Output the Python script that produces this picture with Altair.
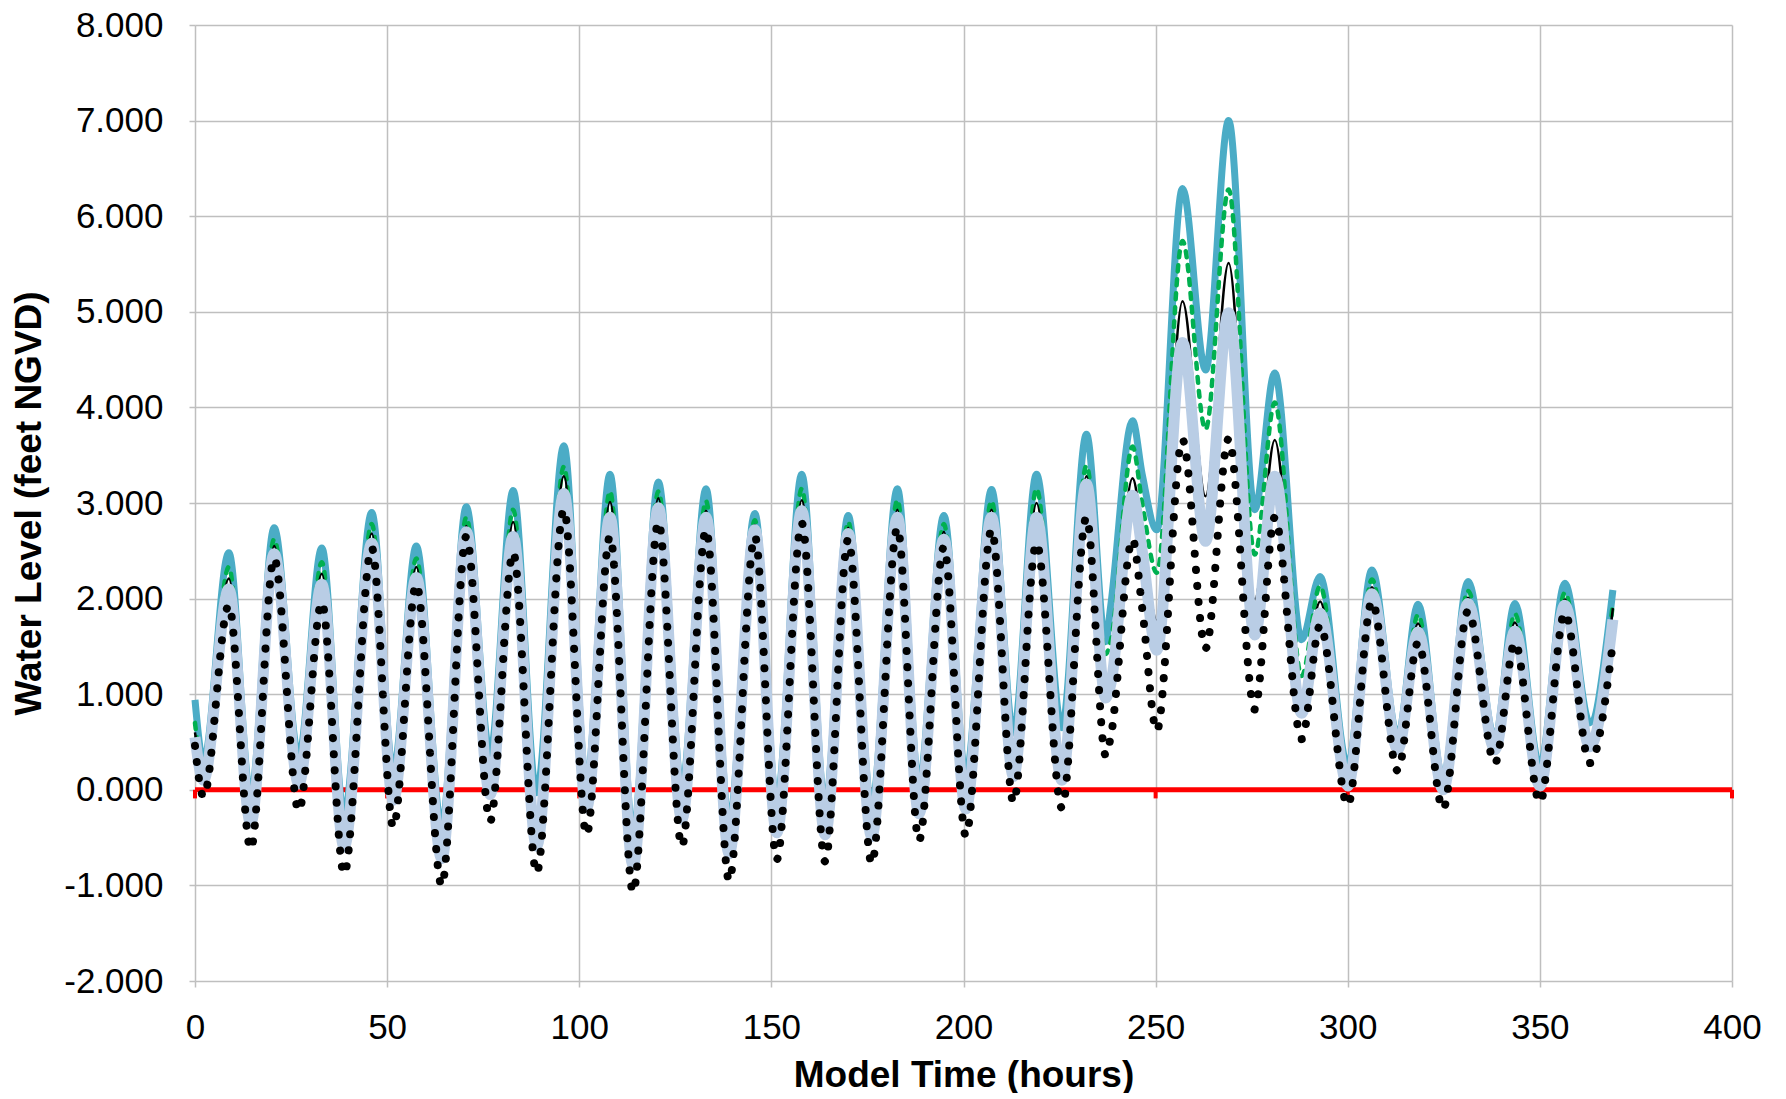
import altair as alt
import pandas as pd

# ---- data (hours, feet NGVD) ----
hours = [0, 2.2, 8.8, 14.5, 20.6, 27, 33, 38.8, 46, 51.6, 57.6, 64.2, 70.6, 76.8,
         82.8, 88.9, 96, 101.9, 108, 114, 120.6, 126.7, 133, 139, 145.7, 151.4,
         157.9, 164, 170, 176.1, 182.8, 188.4, 194.9, 200.6, 207.3, 213, 219, 225.6,
         232, 237, 238.3, 244, 246.5, 250.3, 257, 263, 269, 275.8, 281, 288, 292.8,
         300, 306.3, 313, 318.3, 324.8, 331.3, 338.3, 343.5, 350, 356.5, 363, 369]

observed = [0.46, -0.07, 1.93, -0.62, 2.42, -0.22, 1.96, -0.88, 2.53, -0.39, 2.15, -1.0,
            2.65, -0.33, 2.48, -0.87, 2.93, -0.47, 2.65, -1.07, 2.8, -0.59, 2.72, -0.95,
            2.65, -0.73, 2.79, -0.75, 2.62, -0.77, 2.74, -0.53, 2.54, -0.48, 2.72, -0.13,
            2.58, -0.19, 2.85, 0.36, 0.55, 2.62, 1.9, 0.62, 3.66, 1.48, 3.67, 0.84, 2.85,
            0.53, 1.72, -0.16, 1.97, 0.2, 1.54, -0.2, 1.87, 0.28, 1.54, -0.13, 1.85, 0.28, 1.54]

teal_run = [0.94, 0.30, 2.48, -0.05, 2.74, 0.35, 2.53, -0.25, 2.90, 0.2, 2.55, -0.38,
            2.96, 0.38, 3.13, -0.03, 3.60, 0.07, 3.30, -0.45, 3.22, 0.03, 3.15, -0.33,
            2.89, -0.12, 3.30, -0.15, 2.87, -0.17, 3.15, 0.07, 2.87, 0.15, 3.14, 0.6,
            3.30, 0.65, 3.72, 1.55, 1.92, 3.86, 3.3, 2.72, 6.29, 4.39, 7.0, 2.93, 4.36,
            1.57, 2.23, 0.25, 2.30, 0.56, 1.94, 0.12, 2.18, 0.54, 1.95, 0.25, 2.16, 0.7, 2.09]

green_run = [0.70, 0.18, 2.33, -0.22, 2.62, 0.2, 2.38, -0.46, 2.78, 0.03, 2.42, -0.58,
             2.85, 0.09, 2.93, -0.45, 3.38, -0.05, 3.12, -0.65, 3.12, -0.17, 3.02, -0.53,
             2.82, -0.31, 3.15, -0.33, 2.80, -0.35, 3.03, -0.11, 2.78, -0.06, 3.02, 0.32,
             3.15, 0.3, 3.39, 1.42, 1.55, 3.59, 3.0, 2.27, 5.74, 3.77, 6.28, 2.46, 4.05,
             1.19, 2.13, 0.1, 2.20, 0.48, 1.83, 0.05, 2.08, 0.46, 1.84, 0.1, 2.06, 0.55, 1.95]

black_run = [0.60, 0.15, 2.21, -0.26, 2.55, 0.16, 2.26, -0.5, 2.68, -0.01, 2.33, -0.62,
             2.76, 0.05, 2.80, -0.49, 3.28, -0.09, 3.01, -0.69, 3.05, -0.21, 2.92, -0.57,
             2.77, -0.35, 3.03, -0.37, 2.74, -0.39, 2.93, -0.15, 2.70, -0.1, 2.93, 0.25,
             3.00, 0.2, 3.28, 1.07, 1.25, 3.26, 2.7, 1.77, 5.11, 3.07, 5.51, 1.99, 3.66,
             1.0, 1.97, 0.08, 2.12, 0.45, 1.74, 0.02, 2.01, 0.44, 1.75, 0.07, 1.99, 0.5, 1.90]

lightblue_run = [0.55, 0.10, 2.10, -0.35, 2.47, 0.06, 2.15, -0.6, 2.58, -0.11, 2.22, -0.72,
                 2.70, -0.05, 2.65, -0.59, 3.10, -0.19, 2.85, -0.79, 2.95, -0.31, 2.85, -0.67,
                 2.72, -0.45, 2.92, -0.47, 2.68, -0.49, 2.85, -0.25, 2.62, -0.2, 2.85, 0.14,
                 2.85, 0.1, 3.20, 0.96, 1.1, 3.08, 2.5, 1.46, 4.68, 2.6, 4.99, 1.62, 3.28,
                 0.8, 1.85, 0.04, 2.05, 0.42, 1.65, 0.0, 1.95, 0.42, 1.66, 0.04, 1.93, 0.45, 1.78]

x_ticks = [0, 50, 100, 150, 200, 250, 300, 350, 400]
y_ticks = [-2, -1, 0, 1, 2, 3, 4, 5, 6, 7, 8]
datum_line_x = [0, 400]
datum_line_y = [0, 0]

FONT = "Liberation Sans"
GRID = "#bfbfbf"

for s in (observed, teal_run, green_run, black_run, lightblue_run):
    assert len(s) == len(hours)


def frame(vals):
    return pd.DataFrame({"t": hours, "v": vals})


x_enc = alt.X(
    "t:Q",
    scale=alt.Scale(domain=[0, 400], nice=False, zero=False),
    axis=alt.Axis(
        values=x_ticks, format="d", title="Model Time (hours)",
        labelFont=FONT, labelFontSize=35, labelColor="#000000", labelPadding=23,
        labelFlush=False, labelOverlap=False,
        tickSize=6, tickColor=GRID, tickWidth=1.5, domain=False,
        grid=True, gridColor=GRID, gridWidth=1.5,
        titleFont=FONT, titleFontSize=37, titleFontWeight="bold", titleColor="#000000",
        titleY=94, titleBaseline="middle",
    ),
)
y_enc = alt.Y(
    "v:Q",
    scale=alt.Scale(domain=[-2, 8], nice=False, zero=False),
    axis=alt.Axis(
        values=y_ticks, title="Water Level (feet NGVD)",
        labelExpr="(datum.value < 0 ? '-' : '') + format(abs(datum.value), '.3f')",
        labelFont=FONT, labelFontSize=35, labelColor="#000000", labelPadding=26,
        labelFlush=False, labelOverlap=False,
        tickSize=6, tickColor=GRID, tickWidth=1.5, domain=False,
        grid=True, gridColor=GRID, gridWidth=1.5,
        titleFont=FONT, titleFontSize=37, titleFontWeight="bold", titleColor="#000000",
        titleX=-166, titleY=478, titleBaseline="middle", titleAngle=-90,
    ),
)

red_df = pd.DataFrame({"t": datum_line_x, "v": datum_line_y})
red_tick_df = pd.DataFrame({"t": x_ticks, "v": [0] * len(x_ticks), "v2": [-0.09] * len(x_ticks)})

red_line = alt.Chart(red_df).mark_line(color="#ff0000", strokeWidth=5).encode(x=x_enc, y=y_enc)
red_ticks = alt.Chart(red_tick_df).mark_rule(color="#ff0000", strokeWidth=4).encode(
    x=x_enc, y=y_enc, y2="v2:Q")

teal = alt.Chart(frame(teal_run)).mark_line(
    color="#4bacc6", strokeWidth=7, interpolate="monotone", strokeJoin="round").encode(x=x_enc, y=y_enc)
green = alt.Chart(frame(green_run)).mark_line(
    color="#00b050", strokeWidth=4.5, interpolate="monotone", strokeDash=[6, 8],
    strokeCap="round").encode(x=x_enc, y=y_enc)
black = alt.Chart(frame(black_run)).mark_line(
    color="#000000", strokeWidth=2.5, interpolate="monotone").encode(x=x_enc, y=y_enc)
lightblue = alt.Chart(frame(lightblue_run)).mark_line(
    color="#b9cde5", strokeWidth=11, interpolate="monotone", strokeJoin="round").encode(x=x_enc, y=y_enc)
dots = alt.Chart(frame(observed)).mark_line(
    color="#000000", strokeWidth=8, interpolate="monotone", strokeDash=[0.1, 16],
    strokeCap="round").encode(x=x_enc, y=y_enc)

chart = alt.layer(red_line, red_ticks, teal, green, black, lightblue, dots).properties(
    width=1537, height=956,
    padding={"left": 187, "top": 17, "right": 40, "bottom": 112},
    autosize=alt.AutoSizeParams(type="none"),
    background="#ffffff",
).configure_view(strokeWidth=0)

chart.save("out.html", embed_options={"renderer": "svg", "actions": False})
